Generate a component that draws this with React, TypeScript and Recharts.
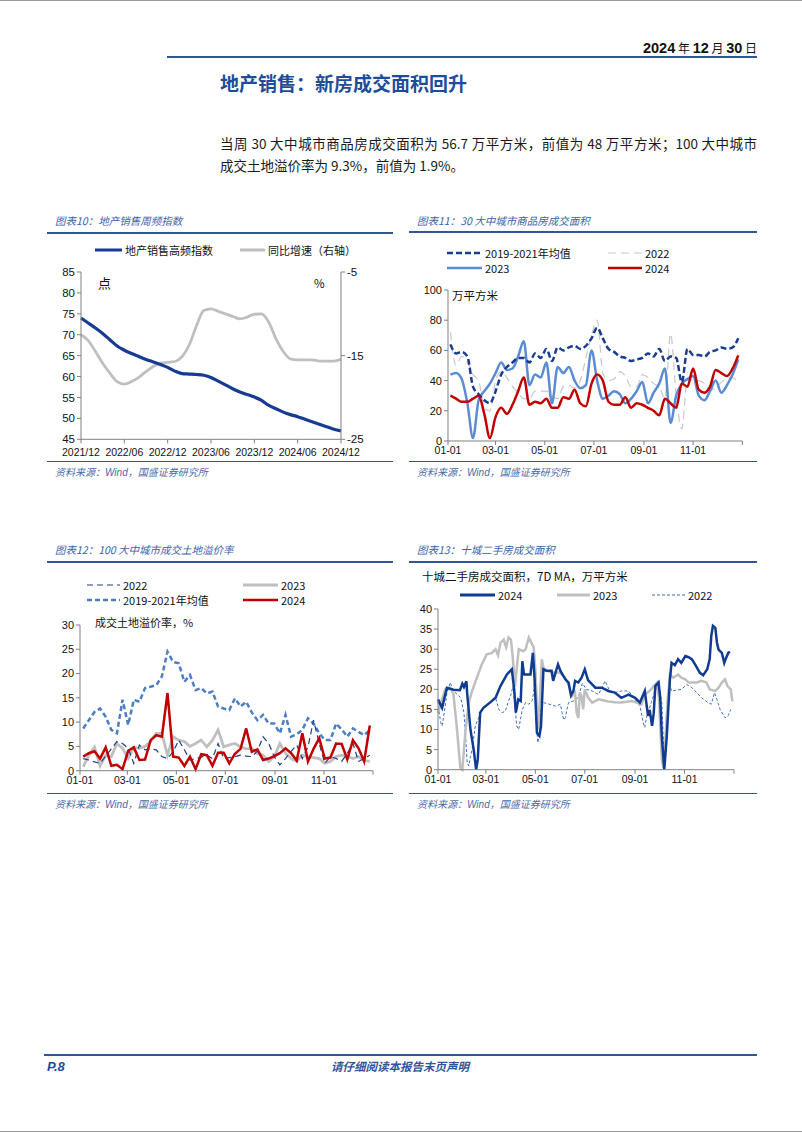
import React from 'react';
import { LineChart, Line, XAxis, YAxis } from 'recharts';

const SANS = '"Liberation Sans", Arial, sans-serif';
const CJK = '"Noto Sans CJK SC", "Liberation Sans", sans-serif';
const PAGE_W = 802;

// ---------- 图表10：地产销售周频指数 ----------
const C10_MONTHS = [
  '2021/12', '2022/01', '2022/02', '2022/03', '2022/04', '2022/05', '2022/06', '2022/07', '2022/08', '2022/09',
  '2022/10', '2022/11', '2022/12', '2023/01', '2023/02', '2023/03', '2023/04', '2023/05', '2023/06', '2023/07',
  '2023/08', '2023/09', '2023/10', '2023/11', '2023/12', '2024/01', '2024/02', '2024/03', '2024/04', '2024/05',
  '2024/06', '2024/07', '2024/08', '2024/09', '2024/10', '2024/11', '2024/12',
];
const C10_INDEX = [
  74, 72.8, 71.6, 70.3, 68.8, 67.3, 66.3, 65.5, 64.8, 64.1,
  63.5, 62.9, 62.2, 61.3, 60.7, 60.6, 60.5, 60.3, 59.8, 58.9,
  58, 57.1, 56.3, 55.7, 55.1, 54.3, 53.1, 52.3, 51.5, 50.9,
  50.4, 49.8, 49.2, 48.6, 48, 47.4, 47,
];
const C10_YOY = [
  -12.5, -13.2, -14.5, -15.9, -17.1, -18.1, -18.4, -18.1, -17.6, -16.9,
  -16.3, -15.9, -15.8, -15.7, -15.1, -13.7, -11.4, -9.6, -9.4, -9.7,
  -10, -10.3, -10.6, -10.4, -10.05, -10, -11, -13, -14.5, -15.4,
  -15.5, -15.5, -15.5, -15.65, -15.65, -15.65, -15.45,
];
const C10_X_TICKS = ['2021/12', '2022/06', '2022/12', '2023/06', '2023/12', '2024/06', '2024/12'];
const C10_LEFT_TICKS = [45, 50, 55, 60, 65, 70, 75, 80, 85];
const C10_RIGHT_TICKS = [-25, -15, -5];

// ---------- 共用：月份刻度 ----------
const MONTH_TICK_DAYS = [0, 59, 120, 181, 243, 304, 365];
const MONTH_TICK_LABELS = ['01-01', '03-01', '05-01', '07-01', '09-01', '11-01', ''];

// ---------- 图表11：30 大中城市商品房成交面积（周） ----------
const C11_AVG1921 = [
  64, 58, 59, 56, 36, 31, 27, 25, 33, 44, 49, 52, 55, 55, 52, 58, 55, 61, 53, 62,
  60, 62, 63, 61, 63, 68, 75, 68, 61, 59, 56, 55, 53, 54, 55, 58, 56, 61, 53, 56,
  55, 39, 61, 57, 57, 56, 59, 60, 62, 61, 62, 68,
];
const C11_2022 = [
  72, 50, 56, 52, 44, 40, 22, 20, 40, 46, 42, 36, 32, 28, 28, 33, 33, 33, 30, 28,
  36, 37, 35, 40, 55, 70, 80, 45, 40, 41, 46, 43, 36, 36, 44, 42, 38, 36, 28, 71,
  30, 8, 42, 40, 40, 38, 34, 35, 39, 41, 42, 38,
];
const C11_2023 = [
  44, 45, 41, 25, 2, 27, 33, 38, 45, 52, 47, 48, 56, 66, 37, 44, 42, 52, 25, 49,
  45, 49, 40, 35, 37, 60, 40, 28, 30, 33, 31, 25, 28, 33, 39, 25, 32, 38, 48, 12,
  30, 38, 41, 43, 30, 27, 33, 40, 32, 37, 44, 54,
];
const C11_2024 = [
  30, 28, 26, 26, 28, 30, 18, 2, 16, 22, 18, 24, 33, 42, 24, 26, 25, 28, 22, 22,
  29, 28, 34, 25, 23, 38, 44, 40, 26, 24, 24, 29, 22, 25, 24, 22, 20, 17, 28, 25,
  22, 38, 36, 48, 34, 32, 36, 47, 45, 43, 48, 56.7,
];
const C11_Y_TICKS = [0, 20, 40, 60, 80, 100];

// ---------- 图表12：100 大中城市成交土地溢价率（周） ----------
const C12_2022 = [
  2.5, 2.2, 1.8, 1.5, 3.0, 4.5, 6.0, 5.6, 4.6, 1.5, 5.3, 4.3, 4.5, 4.3, 2.9, 2.5, 3.9, 6.3, 4.3, 2.2,
  2.5, 2.8, 3.2, 2.5, 5.6, 2.5, 2.7, 2.9, 3.2, 3.0, 2.9, 4.0, 7.0, 5.6, 2.9, 1.2, 2.5, 4.0, 5.3, 2.5,
  4.9, 10.4, 5.6, 1.5, 2.9, 2.5, 1.9, 3.6, 5.6, 1.9, 2.5, 3.2,
];
const C12_AVG1921 = [
  8.7, 10.4, 12.1, 12.8, 11.1, 8.4, 7.7, 14.6, 9.4, 14.6, 14.2, 17, 17.3, 17.6, 19.4, 24.5, 22.4, 22.1, 18.3, 19.7,
  16.6, 17, 15.9, 16.3, 13.2, 12.8, 12.5, 14.9, 13.2, 14.2, 12, 10.4, 11.5, 9.7, 9.7, 7.7, 11.5, 7.0, 7.5, 8.4,
  10.8, 9.7, 7.7, 6.3, 6.3, 9.7, 8.5, 7.0, 8.7, 8.0, 7.3, 8.4,
];
const C12_2023 = [
  0.8, 3.2, 4.9, 1.0, 3.2, 2.9, 5.6, 4.6, 2.5, 4.8, 4.6, 5.0, 6.0, 7.7, 7.7, 3.2, 7.0, 6.3, 6.0, 5.0,
  5.6, 6.3, 4.9, 6.3, 8.4, 4.9, 5.3, 5.6, 4.9, 4.5, 4.6, 3.5, 3.2, 1.9, 2.9, 5.6, 3.6, 2.5, 1.9, 3.2,
  2.9, 2.7, 2.5, 1.5, 1.9, 2.9, 3.2, 3.0, 2.5, 2.9, 2.1, 1.9,
];
const C12_2024 = [
  2.9, 3.6, 4.0, 2.5, 4.8, 1.0, 1.2, 0.3, 4.1, 4.8, 2.2, 2.3, 6.3, 7.3, 7.0, 16, 2.9, 2.7, 1.0, 2.9,
  0.3, 3.4, 3.2, 1.0, 3.7, 3.7, 1.5, 3.5, 4.5, 8.7, 3.9, 4.4, 2.2, 2.5, 3.0, 3.6, 4.6, 3.6, 2.1, 7.7,
  1.9, 4.5, 6.7, 2.5, 2.7, 5.6, 5.5, 2.3, 6.3, 4.6, 1.9, 9.3,
];
const C12_Y_TICKS = [0, 5, 10, 15, 20, 25, 30];

// ---------- 图表13：十城二手房成交面积（7D MA，[日序, 值]） ----------
const C13_2024 = [
  [0, 17.5], [5, 15.4], [11, 20.4], [19, 19.9], [27, 19.8], [30, 21.4], [32, 20.6], [35, 22], [36, 18.9], [40, 10],
  [44, 5], [47, 0], [49, 2.5], [52, 14.2], [56, 15.4], [64, 16.7], [71, 17.9], [77, 20.8], [85, 23.7], [91, 25],
  [94, 19.9], [96, 14.2], [99, 17.5], [102, 17.1], [104, 27], [106, 23.7], [114, 23.7], [117, 29.1], [119, 22.9], [122, 9.2],
  [125, 8.4], [127, 10.8], [130, 25], [134, 24.6], [140, 24.6], [142, 22.1], [145, 24.2], [148, 26.2], [151, 24.6], [157, 22.5],
  [161, 21.7], [164, 18.5], [167, 19.6], [169, 22.1], [173, 21.7], [177, 22.9], [181, 25], [185, 22.3], [194, 20.4], [202, 20.4],
  [210, 19.6], [218, 19.2], [226, 17.9], [235, 18.7], [243, 17.9], [249, 16.7], [255, 19.6], [259, 13.4], [261, 14.9], [264, 10.9],
  [266, 14], [268, 20.8], [272, 21.7], [274, 18], [276, 8.4], [279, 0], [282, 8], [286, 22.5], [288, 26.6], [292, 26],
  [296, 27.5], [300, 26.6], [305, 28.3], [309, 28], [313, 27.5], [317, 26.2], [323, 24.1], [327, 23.5], [332, 25], [335, 27.5],
  [337, 33.3], [339, 35.8], [342, 35.3], [344, 31.6], [346, 29.9], [350, 29.1], [353, 26.6], [355, 27.7], [358, 29.1], [360, 29.3],
];
const C13_2023 = [
  [0, 14], [4, 17], [9, 20], [15, 20.4], [19, 18.9], [23, 10.9], [26, 4], [27.5, 0.5], [30, 0], [32, 5],
  [34, 10], [38, 16.7], [42, 19.6], [48, 22.9], [54, 26.2], [60, 28.7], [66, 29], [71, 30], [74, 28.5], [77, 31.6],
  [81, 32.4], [84, 30.5], [87, 32.9], [90, 32.4], [92, 28.3], [95, 20.8], [97, 25], [99.5, 30], [105, 29.5], [108, 30],
  [112, 32.9], [116, 31.2], [118, 30.5], [120, 25], [122, 15.9], [124, 10], [126, 19.2], [128, 27.5], [130, 25.4], [134, 24.6],
  [142, 24.2], [150, 24.2], [157, 22.9], [161, 21.2], [165, 18.3], [169, 19.2], [171, 14.2], [173, 12.9], [175, 19.2], [177, 18.3],
  [179, 15], [181, 20], [185, 18], [190, 16.7], [198, 17.5], [210, 17], [218, 16.8], [226, 16.7], [239, 17.1], [245, 16.7],
  [251, 16.3], [255, 18.7], [261, 19.6], [266, 20.8], [270, 21.7], [272.6, 17.5], [276, 2.5], [278, 0.5], [280, 5.8], [283, 16.7],
  [286, 23.7], [290, 22.9], [296, 23.7], [300, 22.9], [305, 22.5], [309, 21.7], [319, 21.7], [325, 22.1], [331, 21.7], [335, 20],
  [342, 19.6], [346, 20.4], [350, 21.7], [354, 22.5], [357, 20.8], [361, 20], [363, 17],
];
const C13_2022 = [
  [0, 17], [3, 12], [5, 10.9], [7, 13.3], [11, 19], [15, 21.7], [19, 19.6], [24, 18.7], [28, 17.9], [32, 14.2],
  [34, 8.4], [36, 1.7], [38, 0.9], [40, 3.3], [42, 5], [46, 10.9], [50, 12.9], [54, 15], [60, 15.8], [65, 17.1],
  [71, 17.9], [75, 15], [79, 14.2], [83, 14.6], [87, 17.1], [90, 18.7], [92.5, 20.8], [94.5, 16.7], [97, 10.9], [99.5, 10],
  [102, 12.9], [104, 15], [108, 16.7], [112, 16.3], [116, 17.1], [118, 19.2], [119.5, 23.5], [121, 12.4], [123, 6.7], [125, 8.7],
  [127, 15], [130, 16.7], [137, 16.3], [145, 15.8], [151, 16.3], [153, 14.2], [155, 12.4], [157, 12.9], [159, 15], [161, 16.7],
  [167, 17.1], [173, 18], [178, 21.5], [183, 20], [190, 19.6], [198, 18.7], [206, 22.1], [212, 19.5], [218, 19.2], [226, 19.6],
  [235, 19.6], [243, 17.5], [249, 15.9], [253, 11.7], [255, 10.5], [257, 12.9], [263, 16.7], [268, 20], [272, 20.8], [276, 16.7],
  [279, 2], [282, 10], [285, 21.7], [288, 19.6], [294, 19.8], [300, 20], [307, 21.2], [313, 20.4], [319, 19.2], [325, 17.9],
  [333, 16.7], [337, 16.3], [341, 19.2], [344, 17.5], [348, 14.9], [354, 12.9], [358, 13.5], [361, 15],
];
const C13_Y_TICKS = [0, 5, 10, 15, 20, 25, 30, 35, 40];

// ---------- tables ----------
const c10Data = C10_MONTHS.map((m, i) => ({ i, m, index: C10_INDEX[i], yoy: C10_YOY[i] }));
const c10TickIdx = C10_X_TICKS.map((t) => C10_MONTHS.indexOf(t));
const c11Data = C11_AVG1921.map((v, i) => ({ d: i * 7 + 3, avg: v, y22: C11_2022[i], y23: C11_2023[i], y24: C11_2024[i] }));
const c12Data = C12_AVG1921.map((v, i) => ({ d: i * 7 + 4, avg: v, y22: C12_2022[i], y23: C12_2023[i], y24: C12_2024[i] }));
const toPts = (arr: number[][]) => arr.map(([d, v]) => ({ d, v }));
const c13a = toPts(C13_2024);
const c13b = toPts(C13_2023);
const c13c = toPts(C13_2022);

const monthFmt = (v: number) => {
  const k = MONTH_TICK_DAYS.indexOf(v);
  return k >= 0 ? MONTH_TICK_LABELS[k] : '';
};

// ---------- colors ----------
const AXIS = '#808080';
const NAVY = '#173A94';
const GRAY = '#BFBFBF';
const RED = '#C00000';
const LBLUE = '#5B8CD3';
const STEEL = '#4D7EC2';
const DNAVY = '#1F3C86';
const THEME = '#2F5597';
const TITLE_BLUE = '#3D62AA';

const tickStyle = { fontSize: 11, fill: '#111', fontFamily: SANS };
const xTickStyle = { fontSize: 10.5, fill: '#111', fontFamily: SANS };
const tickStyle10 = { fontSize: 11.5, fill: '#111', fontFamily: SANS };
const xTickStyle10 = { fontSize: 10.5, fill: '#111', fontFamily: SANS };

// ---------- helpers ----------
function Txt(props: {
  x: number; y: number; size?: number; color?: string; anchor?: 'start' | 'end' | 'middle';
  family?: string; weight?: number; italic?: boolean; children: React.ReactNode; style?: React.CSSProperties;
}) {
  const { x, y, size = 12, color = '#111', anchor = 'start', family = CJK, weight = 400, italic = false, children, style } = props;
  const lh = Math.round(size * 1.3);
  const s: React.CSSProperties = {
    position: 'absolute', top: y - lh / 2, lineHeight: lh + 'px', height: lh, fontSize: size, color,
    fontFamily: family, fontWeight: weight, fontStyle: italic ? 'italic' : 'normal', whiteSpace: 'nowrap', ...style,
  };
  if (anchor === 'start') s.left = x;
  else if (anchor === 'end') s.right = PAGE_W - x;
  else { s.left = x; s.transform = 'translateX(-50%)'; }
  return <div style={s}>{children}</div>;
}

function HLine({ x1, x2, y, color = THEME, w = 1.5 }: { x1: number; x2: number; y: number; color?: string; w?: number }) {
  return <div style={{ position: 'absolute', left: x1, top: y - w / 2, width: x2 - x1, height: w, background: color }} />;
}

function LegendItem({ x, y, len, color, width, dash, label }: {
  x: number; y: number; len: number; color: string; width: number; dash?: string; label: string;
}) {
  return (
    <>
      <svg style={{ position: 'absolute', left: x, top: y - 4 }} width={len} height={8}>
        <line x1={0} y1={4} x2={len} y2={4} stroke={color} strokeWidth={width} strokeDasharray={dash} />
      </svg>
      <Txt x={x + len + 3} y={y} size={11}>{label}</Txt>
    </>
  );
}

function ChartTitle({ x, y, children }: { x: number; y: number; children: React.ReactNode }) {
  return <Txt x={x} y={y} size={10.5} italic color={TITLE_BLUE}>{children}</Txt>;
}

function Source({ x, y }: { x: number; y: number }) {
  return (
    <Txt x={x} y={y} size={10} italic color="#4A6BAE">
      资料来源：<span style={{ fontFamily: SANS }}>Wind</span>，国盛证券研究所
    </Txt>
  );
}

function Pos({ left, top, children }: { left: number; top: number; children: React.ReactNode }) {
  return <div style={{ position: 'absolute', left, top }}>{children}</div>;
}

// ---------- charts ----------
function Chart10() {
  // plot: x 81..341, y 271.7..439
  const yW = 40, mt = 8, xH = 26;
  const W = 260 + yW * 2;
  const H = 167.3 + mt + xH;
  return (
    <Pos left={81 - yW} top={271.7 - mt}>
      <LineChart width={W} height={H} data={c10Data} margin={{ top: mt, right: 0, bottom: 0, left: 0 }}>
        <XAxis
          dataKey="i" type="number" domain={[0, 36]} ticks={c10TickIdx} interval={0}
          tickFormatter={(v: number) => C10_MONTHS[v]} height={xH} tickSize={4} tickMargin={5}
          axisLine={{ stroke: AXIS }} tickLine={{ stroke: AXIS }} tick={xTickStyle10}
        />
        <YAxis
          yAxisId="left" domain={[45, 85]} ticks={C10_LEFT_TICKS} interval={0} width={yW} tickSize={4}
          axisLine={{ stroke: AXIS }} tickLine={{ stroke: AXIS }} tick={tickStyle10}
        />
        <YAxis
          yAxisId="right" orientation="right" domain={[-25, -5]} ticks={C10_RIGHT_TICKS} interval={0} width={yW} tickSize={4}
          axisLine={{ stroke: AXIS }} tickLine={{ stroke: AXIS }} tick={tickStyle10}
        />
        <Line yAxisId="right" dataKey="yoy" type="monotone" stroke={GRAY} strokeWidth={2.8} dot={false} activeDot={false} isAnimationActive={false} />
        <Line yAxisId="left" dataKey="index" type="monotone" stroke={NAVY} strokeWidth={3.2} dot={false} activeDot={false} isAnimationActive={false} />
      </LineChart>
    </Pos>
  );
}

function Chart11() {
  // plot: x 447.7..742, y 290..441
  const yW = 40, mt = 8, xH = 24, mr = 20;
  const W = 294.3 + yW + mr;
  const H = 151 + mt + xH;
  return (
    <Pos left={447.7 - yW} top={290 - mt}>
      <LineChart width={W} height={H} data={c11Data} margin={{ top: mt, right: mr, bottom: 0, left: 0 }}>
        <XAxis
          dataKey="d" type="number" domain={[0, 365]} ticks={MONTH_TICK_DAYS} interval={0}
          tickFormatter={monthFmt} height={xH} tickSize={4}
          axisLine={{ stroke: AXIS }} tickLine={{ stroke: AXIS }} tick={xTickStyle}
        />
        <YAxis
          domain={[0, 100]} ticks={C11_Y_TICKS} interval={0} width={yW} tickSize={4}
          axisLine={{ stroke: AXIS }} tickLine={{ stroke: AXIS }} tick={tickStyle}
        />
        <Line dataKey="y22" type="monotone" stroke="#C8C8C8" strokeWidth={1.2} strokeDasharray="8 5" dot={false} activeDot={false} isAnimationActive={false} />
        <Line dataKey="y23" type="monotone" stroke={LBLUE} strokeWidth={2.5} dot={false} activeDot={false} isAnimationActive={false} />
        <Line dataKey="avg" type="monotone" stroke="#1A3D8F" strokeWidth={2.5} strokeDasharray="6 3" dot={false} activeDot={false} isAnimationActive={false} />
        <Line dataKey="y24" type="monotone" stroke={RED} strokeWidth={2.5} dot={false} activeDot={false} isAnimationActive={false} />
      </LineChart>
    </Pos>
  );
}

function Chart12() {
  // plot: x 80..373, y 625..770.7
  const yW = 40, mt = 8, xH = 24, mr = 20;
  const W = 293 + yW + mr;
  const H = 145.7 + mt + xH;
  return (
    <Pos left={80 - yW} top={625 - mt}>
      <LineChart width={W} height={H} data={c12Data} margin={{ top: mt, right: mr, bottom: 0, left: 0 }}>
        <XAxis
          dataKey="d" type="number" domain={[0, 365]} ticks={MONTH_TICK_DAYS} interval={0}
          tickFormatter={monthFmt} height={xH} tickSize={4}
          axisLine={{ stroke: AXIS }} tickLine={{ stroke: AXIS }} tick={xTickStyle}
        />
        <YAxis
          domain={[0, 30]} ticks={C12_Y_TICKS} interval={0} width={yW} tickSize={4}
          axisLine={{ stroke: AXIS }} tickLine={{ stroke: AXIS }} tick={tickStyle}
        />
        <Line dataKey="avg" type="linear" stroke={STEEL} strokeWidth={2.5} strokeDasharray="5 3" dot={false} activeDot={false} isAnimationActive={false} />
        <Line dataKey="y23" type="linear" stroke={GRAY} strokeWidth={2.8} dot={false} activeDot={false} isAnimationActive={false} />
        <Line dataKey="y22" type="linear" stroke={DNAVY} strokeWidth={1.2} strokeDasharray="6 4" dot={false} activeDot={false} isAnimationActive={false} />
        <Line dataKey="y24" type="linear" stroke={RED} strokeWidth={2.5} dot={false} activeDot={false} isAnimationActive={false} />
      </LineChart>
    </Pos>
  );
}

function Chart13() {
  // plot: x 438.3..734.3, y 609.3..770
  const yW = 40, mt = 8, xH = 24, mr = 20;
  const W = 296 + yW + mr;
  const H = 160.7 + mt + xH;
  return (
    <Pos left={438.3 - yW} top={609.3 - mt}>
      <LineChart width={W} height={H} margin={{ top: mt, right: mr, bottom: 0, left: 0 }}>
        <XAxis
          dataKey="d" type="number" domain={[0, 365]} ticks={MONTH_TICK_DAYS} interval={0}
          tickFormatter={monthFmt} height={xH} tickSize={4} allowDuplicatedCategory={false}
          axisLine={{ stroke: AXIS }} tickLine={{ stroke: AXIS }} tick={xTickStyle}
        />
        <YAxis
          domain={[0, 40]} ticks={C13_Y_TICKS} interval={0} width={yW} tickSize={4}
          axisLine={{ stroke: AXIS }} tickLine={{ stroke: AXIS }} tick={tickStyle}
        />
        <Line data={c13c} dataKey="v" type="linear" stroke="#3F6FBF" strokeWidth={1} strokeDasharray="3 2" dot={false} activeDot={false} isAnimationActive={false} />
        <Line data={c13b} dataKey="v" type="linear" stroke={GRAY} strokeWidth={2.5} dot={false} activeDot={false} isAnimationActive={false} />
        <Line data={c13a} dataKey="v" type="linear" stroke="#0F3C92" strokeWidth={2.5} dot={false} activeDot={false} isAnimationActive={false} />
      </LineChart>
    </Pos>
  );
}

export default function App() {
  return (
    <div style={{ position: 'absolute', left: 0, top: 0, width: 802, height: 1133, background: '#fff', overflow: 'hidden' }}>
      {/* page borders */}
      <HLine x1={0} x2={802} y={0.5} color="#9a9a9a" w={1} />
      <HLine x1={0} x2={802} y={1131.5} color="#9a9a9a" w={1} />

      {/* header */}
      <Txt x={757} y={47} anchor="end" size={14.5} family={SANS} weight={700} color="#111">
        2024<span style={{ fontFamily: CJK, fontWeight: 400, fontSize: 12 }}> 年 </span>12
        <span style={{ fontFamily: CJK, fontWeight: 400, fontSize: 12 }}> 月 </span>30
        <span style={{ fontFamily: CJK, fontWeight: 400, fontSize: 12 }}> 日</span>
      </Txt>
      <HLine x1={167} x2={757} y={57} color={THEME} w={2} />
      <Txt x={220} y={82} size={19} weight={700} color="#1E4C9A">地产销售：新房成交面积回升</Txt>

      <div style={{
        position: 'absolute', left: 220, top: 133, width: 537, fontFamily: CJK, fontSize: 13.5, lineHeight: '20px',
        color: '#1a1a1a', textAlign: 'justify', textAlignLast: 'justify', whiteSpace: 'nowrap',
      }}>
        当周 30 大中城市商品房成交面积为 56.7 万平方米，前值为 48 万平方米；100 大中城市
      </div>
      <Txt x={220} y={165} size={13.5} color="#1a1a1a">成交土地溢价率为 9.3%，前值为 1.9%。</Txt>

      {/* 图表10 */}
      <ChartTitle x={55} y={221}>图表10：地产销售周频指数</ChartTitle>
      <HLine x1={47} x2={393} y={233} />
      <LegendItem x={95} y={250} len={27} color={NAVY} width={3} label="地产销售高频指数" />
      <LegendItem x={240} y={250} len={25} color={GRAY} width={3} label="同比增速（右轴）" />
      <Chart10 />
      <Txt x={98} y={282} size={13}>点</Txt>
      <Txt x={314} y={283} size={11.5}>%</Txt>
      <HLine x1={47} x2={393} y={461} w={1} />
      <Source x={55} y={471} />

      {/* 图表11 */}
      <ChartTitle x={417} y={221}>图表11：30 大中城市商品房成交面积</ChartTitle>
      <HLine x1={409} x2={757} y={232} />
      <LegendItem x={447} y={253} len={35} color="#1A3D8F" width={2.5} dash="6 3" label="2019-2021年均值" />
      <LegendItem x={608} y={253} len={34} color="#C8C8C8" width={1.2} dash="8 5" label="2022" />
      <LegendItem x={447} y={268} len={35} color={LBLUE} width={2.5} label="2023" />
      <LegendItem x={608} y={268} len={34} color={RED} width={2.5} label="2024" />
      <Chart11 />
      <Txt x={452} y={295} size={11.5}>万平方米</Txt>
      <HLine x1={409} x2={757} y={461} w={1} />
      <Source x={417} y={471} />

      {/* 图表12 */}
      <ChartTitle x={55} y={550}>图表12：100 大中城市成交土地溢价率</ChartTitle>
      <HLine x1={47} x2={393} y={562} />
      <LegendItem x={87} y={585} len={33} color={DNAVY} width={1.2} dash="6 4" label="2022" />
      <LegendItem x={243} y={585} len={35} color={GRAY} width={3} label="2023" />
      <LegendItem x={87} y={600} len={33} color={STEEL} width={2.5} dash="5 3" label="2019-2021年均值" />
      <LegendItem x={243} y={600} len={35} color={RED} width={2.5} label="2024" />
      <Chart12 />
      <Txt x={95} y={622} size={11}>成交土地溢价率，%</Txt>
      <HLine x1={47} x2={393} y={793} w={1} />
      <Source x={55} y={803} />

      {/* 图表13 */}
      <ChartTitle x={417} y={550}>图表13：十城二手房成交面积</ChartTitle>
      <HLine x1={409} x2={757} y={562} />
      <Txt x={422} y={576} size={11.5}>十城二手房成交面积，7D MA，万平方米</Txt>
      <LegendItem x={460} y={595} len={35} color="#0F3C92" width={3} label="2024" />
      <LegendItem x={557} y={595} len={33} color={GRAY} width={3} label="2023" />
      <LegendItem x={652} y={595} len={33} color="#3F6FBF" width={1} dash="3 2" label="2022" />
      <Chart13 />
      <HLine x1={409} x2={757} y={793} w={1} />
      <Source x={417} y={803} />

      {/* footer */}
      <HLine x1={44} x2={757} y={1055} color={THEME} w={1.5} />
      <Txt x={47} y={1066} size={13} family={SANS} weight={700} italic color="#1E4C9A">P.8</Txt>
      <Txt x={400} y={1066} size={11.5} anchor="middle" italic weight={700} color={THEME}>请仔细阅读本报告末页声明</Txt>
    </div>
  );
}
